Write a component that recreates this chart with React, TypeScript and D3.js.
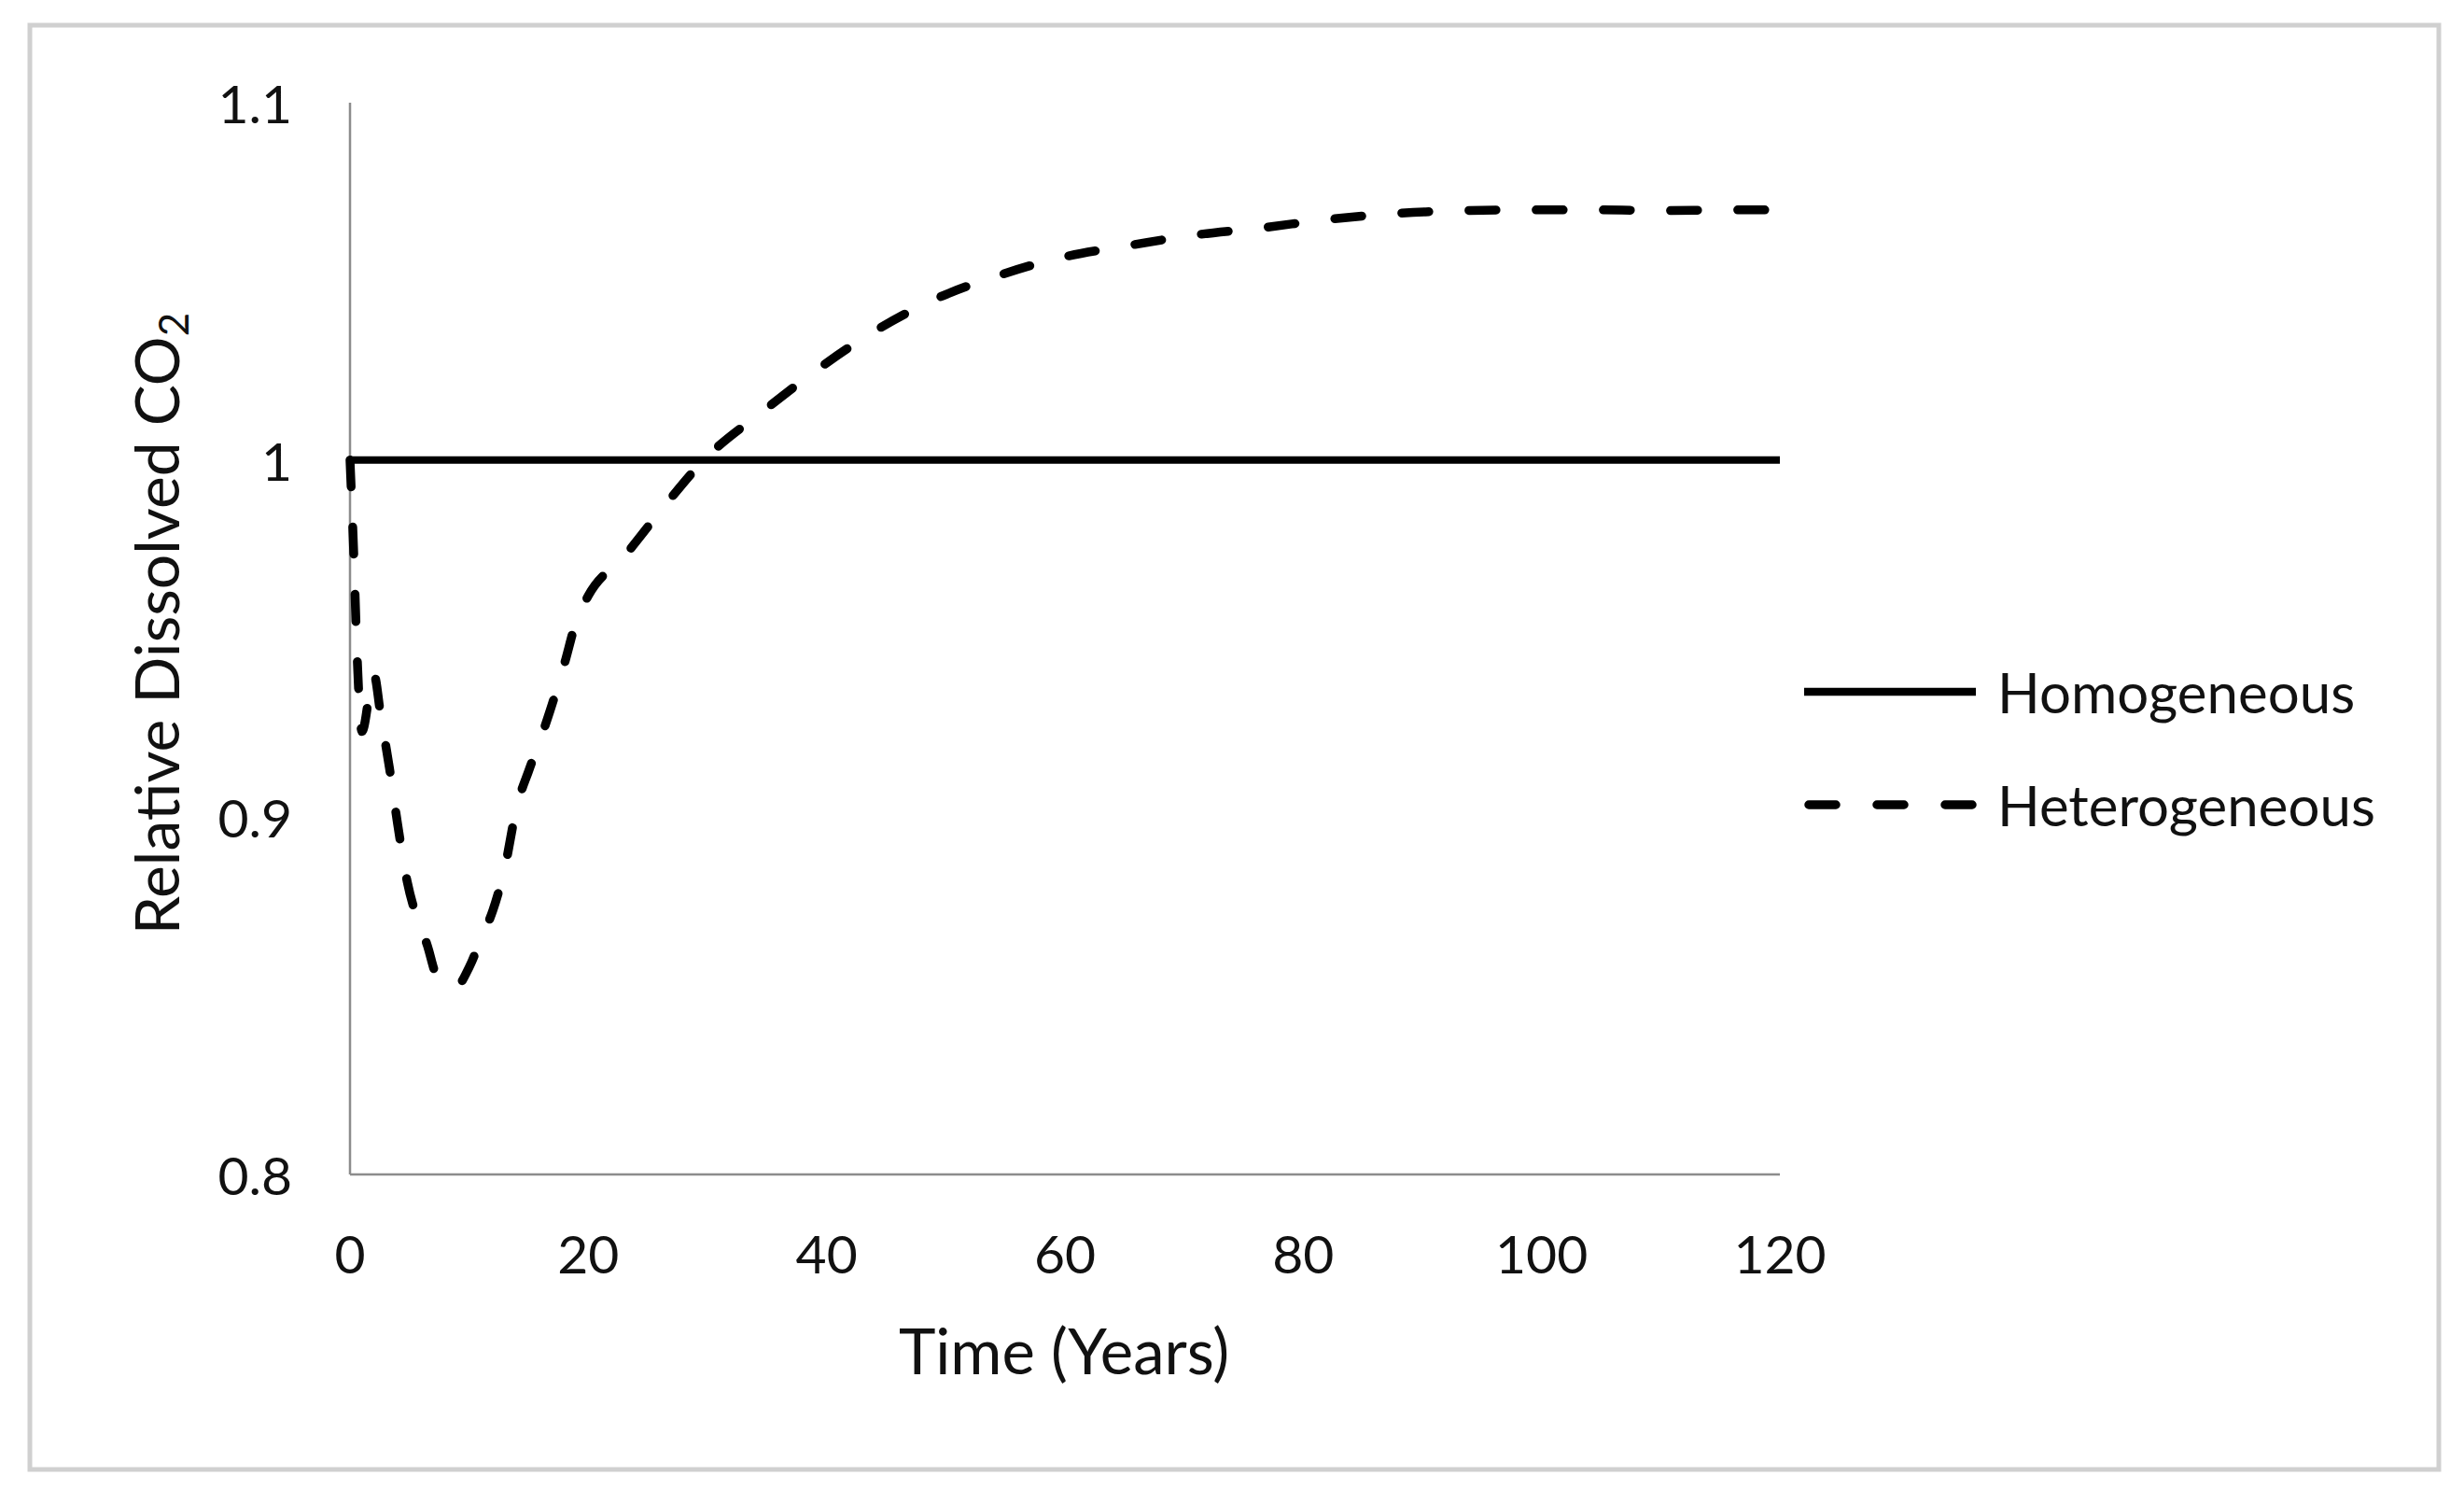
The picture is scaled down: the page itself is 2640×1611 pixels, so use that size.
import React from "react";
import * as d3 from "d3";

// ---- data ----
const heteroTime = [0, 0.3, 0.6, 1.0, 2.0, 2.6, 3.3, 4.0, 4.8, 5.6, 6.5, 7.2, 8.0, 9.0, 10.0, 11.0, 12.0, 13.0, 14.0, 15.0, 16.0, 17.0, 18.0, 19.0, 20.0, 23.0, 26.6, 29.7, 34.8, 39.3, 44.0, 49.1, 54.4, 59.6, 65.3, 71.0, 76.6, 82.0, 87.7, 93.3, 99.0, 105.0, 110.0, 116.0, 120.0];
const heteroValue = [1.0, 0.975, 0.945, 0.924, 0.94, 0.928, 0.914, 0.898, 0.882, 0.872, 0.864, 0.856, 0.853, 0.853, 0.858, 0.866, 0.874, 0.886, 0.903, 0.913, 0.922, 0.932, 0.943, 0.955, 0.962, 0.973, 0.988, 1.0, 1.014, 1.0255, 1.036, 1.045, 1.0516, 1.0566, 1.06, 1.063, 1.065, 1.0673, 1.069, 1.0698, 1.07, 1.07, 1.0698, 1.07, 1.07];
const homoTime = [0, 120];
const homoValue = [1, 1];

const xTicks = [0, 20, 40, 60, 80, 100, 120];
const yTicks = [0.8, 0.9, 1.0, 1.1];
const yTickLabels = ["0.8", "0.9", "1", "1.1"];

const seriesNames = ["Homogeneous", "Heterogeneous"];
const xTitle = "Time (Years)";

const FONT = "Lato, 'Open Sans', sans-serif";

export default function App() {
  const W = 2640;
  const H = 1611;
  const x = d3.scaleLinear().domain([0, 120]).range([375, 1907]);
  const y = d3.scaleLinear().domain([0.8, 1.1]).range([1258, 110]);

  const line = d3
    .line<[number, number]>()
    .x((d) => x(d[0]))
    .y((d) => y(d[1]))
    .curve(d3.curveMonotoneX);

  const hetero: [number, number][] = heteroTime.map((t, i) => [t, heteroValue[i]]);
  const homo: [number, number][] = homoTime.map((t, i) => [t, homoValue[i]]);

  const axisColor = "#8c8c8c";
  const textColor = "#111";
  const dash = "29 43";

  return (
    <svg
      width={W}
      height={H}
      viewBox={`0 0 ${W} ${H}`}
      style={{ position: "absolute", left: 0, top: 0, display: "block", background: "#fff" }}
    >
      <rect x={0} y={0} width={W} height={H} fill="#fff" />
      <rect x={32} y={27} width={2581} height={1547} fill="#fff" stroke="#d0d0d0" strokeWidth={5} />

      {/* axes */}
      <line x1={x(0)} x2={x(0)} y1={y(1.1)} y2={y(0.8)} stroke={axisColor} strokeWidth={2.5} />
      <line x1={x(0)} x2={x(120)} y1={y(0.8)} y2={y(0.8)} stroke={axisColor} strokeWidth={2.5} />

      {/* y tick labels */}
      {yTicks.map((v, i) => (
        <text
          key={"yt" + i}
          x={313}
          y={y(v)}
          textAnchor="end"
          dominantBaseline="central"
          fontFamily={FONT}
          fontSize={57}
          fill={textColor}
        >
          {yTickLabels[i]}
        </text>
      ))}

      {/* x tick labels */}
      {xTicks.map((v, i) => (
        <text
          key={"xt" + i}
          x={x(v)}
          y={1342}
          textAnchor="middle"
          dominantBaseline="central"
          fontFamily={FONT}
          fontSize={57}
          fill={textColor}
        >
          {v}
        </text>
      ))}

      {/* axis titles */}
      <text x={1140} y={1446} textAnchor="middle" dominantBaseline="central" fontFamily={FONT} fontSize={67} fill={textColor}>
        {xTitle}
      </text>
      <text
        transform={`translate(192, 668) rotate(-90)`}
        textAnchor="middle"
        fontFamily={FONT}
        fontSize={66}
        fill={textColor}
      >
        Relative Dissolved CO
        <tspan fontSize={44} dy={10}>2</tspan>
      </text>

      {/* series */}
      <path d={line(homo) || ""} fill="none" stroke="#000" strokeWidth={8} />
      <path
        d={line(hetero) || ""}
        fill="none"
        stroke="#000"
        strokeWidth={9.5}
        strokeDasharray={dash}
        strokeLinecap="round"
        strokeLinejoin="round"
      />

      {/* legend */}
      <line x1={1933} x2={2117} y1={741} y2={741} stroke="#000" strokeWidth={8.5} />
      <text x={2140} y={741} dominantBaseline="central" fontFamily={FONT} fontSize={60} fill={textColor}>
        {seriesNames[0]}
      </text>
      <line
        x1={1938}
        x2={2117}
        y1={862}
        y2={862}
        stroke="#000"
        strokeWidth={9.5}
        strokeDasharray="29 44"
        strokeLinecap="round"
      />
      <text x={2140} y={862} dominantBaseline="central" fontFamily={FONT} fontSize={60} fill={textColor}>
        {seriesNames[1]}
      </text>
    </svg>
  );
}
